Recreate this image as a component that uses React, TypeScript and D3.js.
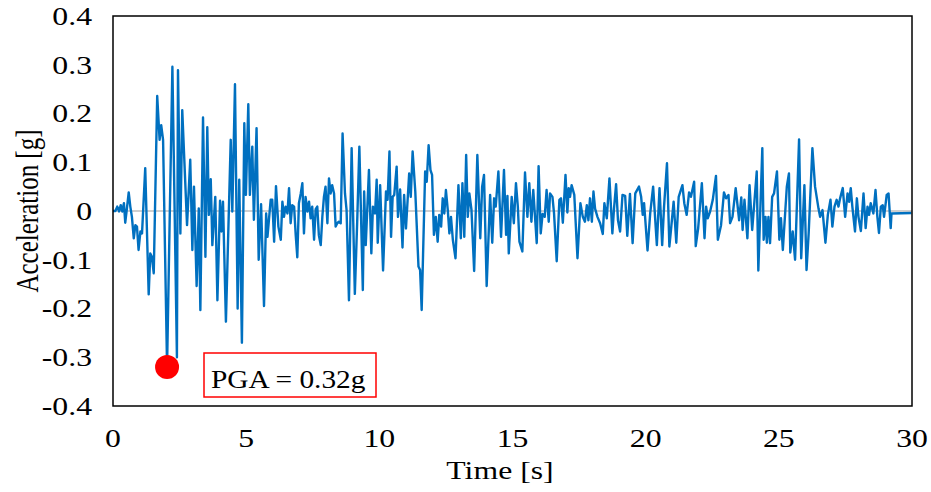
import { useEffect, useRef } from "react";
import * as d3 from "d3";

// time [s] / acceleration [g]
const time = [
  0, 0.09, 0.16, 0.23, 0.29, 0.35, 0.41, 0.46, 0.53, 0.59, 0.65, 0.71, 0.78, 0.84, 0.9, 0.96, 1.03, 1.09, 1.21, 1.34,
  1.4, 1.46, 1.53, 1.66, 1.75, 1.81, 1.88, 2.03, 2.23, 2.4, 2.44, 2.53, 2.6, 2.78, 2.9,
  2.98, 3.04, 3.14, 3.22, 3.28, 3.38, 3.47, 3.54, 3.6, 3.67, 3.73, 3.84, 3.92, 4.02, 4.07, 4.13, 4.24, 4.42, 4.48,
  4.58, 4.68, 4.74, 4.84, 4.93, 4.99, 5.08, 5.14, 5.23, 5.29, 5.39, 5.47, 5.56, 5.67, 5.75, 5.8, 5.86, 5.92, 5.98,
  6.05, 6.12, 6.21,
  6.3, 6.36, 6.42, 6.48, 6.55, 6.61, 6.67, 6.73, 6.8, 6.86, 6.92, 6.98, 7.05, 7.11, 7.17, 7.23, 7.3, 7.36, 7.42,
  7.48, 7.55, 7.61, 7.67, 7.73, 7.8, 7.86, 7.92, 7.98, 8.05, 8.11, 8.17, 8.23, 8.3, 8.36, 8.42, 8.48, 8.55, 8.62,
  8.71, 8.77, 8.86, 8.96, 9.08, 9.17, 9.25,
  9.38, 9.43, 9.49, 9.61, 9.7, 9.76, 9.84, 9.9, 9.94, 10.03, 10.14, 10.25, 10.31, 10.38, 10.44, 10.5, 10.56, 10.65,
  10.7, 10.78, 10.87, 10.93, 11.0, 11.12, 11.18, 11.25, 11.35, 11.47, 11.53, 11.59, 11.72, 11.78, 11.85, 11.92,
  11.98, 12.05, 12.12, 12.19, 12.25,
  12.32, 12.38, 12.44, 12.5, 12.57, 12.63, 12.69, 12.76, 12.86, 12.97, 13.06, 13.12, 13.19, 13.26, 13.32, 13.38,
  13.46, 13.56, 13.68, 13.79, 13.86, 13.93, 14.03, 14.16, 14.24, 14.31, 14.37, 14.47, 14.57, 14.68, 14.76, 14.81,
  14.86, 14.97, 15.05, 15.13, 15.2, 15.26,
  15.37, 15.47, 15.56, 15.63, 15.71, 15.78, 15.91, 15.98, 16.06, 16.13, 16.21, 16.28, 16.36, 16.41, 16.5, 16.56,
  16.66, 16.76, 16.82, 16.89, 16.99, 17.06, 17.11, 17.16, 17.22, 17.32, 17.44, 17.55, 17.64, 17.72, 17.79, 17.85,
  17.91, 17.98, 18.04, 18.1,
  18.19, 18.29, 18.39, 18.45, 18.54, 18.64, 18.75, 18.81, 18.89, 18.96, 19.04, 19.13, 19.23, 19.31, 19.41, 19.51,
  19.61, 19.75, 19.83, 19.89, 19.94, 20.07, 20.17, 20.28, 20.42, 20.52, 20.62, 20.69, 20.8, 20.89, 20.95, 21.05,
  21.15, 21.24,
  21.38, 21.45, 21.54, 21.63, 21.7, 21.82, 21.88, 21.97, 22.11, 22.21, 22.27, 22.33, 22.42, 22.52, 22.64, 22.71,
  22.83, 22.94, 23.02, 23.11, 23.17, 23.26, 23.38, 23.51, 23.59, 23.64, 23.71, 23.82, 23.9, 24.0, 24.17, 24.23,
  24.38, 24.43, 24.5, 24.55, 24.61, 24.67, 24.75, 24.82, 24.93, 25.02, 25.08, 25.15, 25.3, 25.38, 25.43, 25.52,
  25.61, 25.76, 25.84, 25.96, 26.04, 26.12, 26.26, 26.36, 26.49, 26.55, 26.64, 26.75, 26.84, 26.94, 27.01, 27.09,
  27.17, 27.24, 27.3, 27.4, 27.49, 27.58, 27.64, 27.7, 27.76, 27.86, 27.93, 27.99, 28.08, 28.18, 28.26, 28.33,
  28.39, 28.45, 28.55, 28.63, 28.7, 28.76, 28.83, 28.9, 28.95, 29.05, 29.12, 29.2, 29.23, 29.98,
];

const accel = [
  0, 0, 0.009, -0.001, 0.012, -0.001, 0.016, -0.024, 0.009, 0.038, 0.009, -0.012, -0.056, -0.029, -0.032, -0.08,
  -0.042, -0.046, 0.088, -0.171, -0.087, -0.094, -0.128, 0.236, 0.146, 0.176, 0.146, -0.32, 0.296, -0.3, 0.289,
  -0.046, 0.207, -0.029, 0.105,
  -0.08, 0.05, -0.154, 0.005, -0.203, 0.192, -0.094, 0.172, -0.008, 0.065, -0.07, 0.029, -0.183, 0.021, -0.042,
  0.019, -0.227, 0.146, -0.001, 0.26, -0.2, 0.064, -0.27, 0.18, 0.033, 0.219, 0.033, 0.132, -0.018, 0.17, -0.1,
  0.014, -0.195, -0.005, -0.053, -0.015, 0.023, 0.023, -0.063, 0.051, -0.032,
  -0.059, 0.019, -0.012, 0.009, -0.005, 0.047, -0.025, 0.012, 0.009, -0.049, -0.095, 0.016, 0.036, 0.057, -0.046,
  0.029, -0.001, 0.019, -0.015, 0.009, -0.059, 0.004, 0.009, -0.05, -0.07, -0.012, 0.029, 0.05, -0.025, 0.067,
  0.036, 0.053, 0.036, -0.032, -0.025, -0.022, -0.025, 0.159, 0.036, 0.002, -0.183, 0.129, -0.17, -0.02, 0.132,
  -0.162, 0.04, -0.07, 0.084, -0.087, 0.009, -0.005, 0.064, -0.065, 0.053, -0.122, 0.04, 0.023, 0.122, -0.053,
  0.029, 0.033, 0.091, -0.012, 0.044, -0.075, 0.033, -0.036, 0.077, 0.029, 0.122, 0.04, -0.114, -0.121, -0.203,
  0.081, 0.06, 0.135, 0.084, 0.074, -0.049, -0.012, -0.063, -0.008,
  -0.032, 0.026, -0.005, 0.043, 0.002, -0.046, -0.012, -0.059, -0.097, 0.053, -0.056, 0.057, -0.053, 0.115,
  -0.012, 0.036, 0.002, -0.123, 0.115, -0.056, 0.05, 0.074, -0.154, 0.033, -0.065, 0.026, 0.009, 0.081, -0.053,
  0.084, -0.049, 0.031, -0.087, 0.029, -0.025, 0.057, 0.009, -0.063,
  -0.083, 0.079, -0.012, 0.057, -0.022, 0.043, -0.066, 0.092, -0.046, -0.006, -0.012, 0.043, -0.022, 0.036, 0.029,
  -0.005, -0.103, 0.023, 0.026, -0.024, 0.074, -0.003, 0.047, 0.029, 0.053, 0.033, -0.097, 0.016, -0.012, -0.022,
  0.012, -0.019, 0.026, -0.022, 0.04, 0.005,
  -0.012, -0.025, -0.047, 0.016, -0.015, 0.067, -0.046, 0.004, 0.055, -0.019, -0.042, 0.033, 0.031, -0.051, 0.035,
  -0.066, 0.036, 0.05, 0.029, -0.008, 0.016, -0.081, -0.005, 0.05, -0.07, 0.047, -0.07, 0.009, 0.098, -0.073,
  -0.039, 0.019, -0.065, 0.029,
  0.053, 0.016, -0.008, 0.038, 0.029, 0.06, -0.072, -0.036, 0.057, -0.056, 0.009, -0.015, -0.001, 0.023, 0.072,
  -0.059, -0.029, 0.038, 0.026, 0.033, -0.025, -0.012, 0.047, -0.019, 0.028, -0.039, 0.023, -0.056, 0.053, -0.039,
  0.081, -0.122,
  0.129, -0.059, -0.012, -0.065, -0.012, -0.066, 0.029, 0.036, 0.081, -0.059, -0.015, -0.08, 0.05, 0.077, -0.085,
  -0.042, -0.1, 0.147, -0.097, 0.053, -0.121, -0.046, 0.129, 0.05, 0.005, -0.012, 0.002, -0.065, -0.008, 0.023,
  -0.032, 0.009,
  0.023, 0.009, 0.026, 0.047, -0.012, 0.036, 0.019, 0.047, 0.009, -0.042, 0.026, -0.012, -0.041, 0.036, -0.035,
  0.009, -0.008, 0.016, -0.005, 0.043, -0.012, -0.045, 0.009, 0.012, -0.012, 0.033, 0.036, -0.035, -0.005, -0.004,
];

const xTicks = [0, 5, 10, 15, 20, 25, 30];
const yTicks = [-0.4, -0.3, -0.2, -0.1, 0, 0.1, 0.2, 0.3, 0.4];
const pga = { t: 2.03, a: -0.32, label: "PGA = 0.32g" };

const W = 931;
const H = 492;
const margin = { left: 113, right: 19, top: 16, bottom: 86 };
const font = "'Liberation Serif', 'Times New Roman', serif";
const stretch = 1.27; // text in the original is a bit wide

export default function App() {
  const svgRef = useRef<SVGSVGElement>(null);

  useEffect(() => {
    const svg = d3.select(svgRef.current);
    svg.selectAll("*").remove();

    const x = d3.scaleLinear().domain([0, 30]).range([margin.left, W - margin.right]);
    const y = d3.scaleLinear().domain([-0.4, 0.4]).range([H - margin.bottom, margin.top]);

    // zero line
    svg
      .append("line")
      .attr("x1", x(0))
      .attr("x2", x(30))
      .attr("y1", y(0))
      .attr("y2", y(0))
      .attr("stroke", "#bfbfbf")
      .attr("stroke-width", 1.5);

    const data = time.map((t, i) => [t, accel[i]] as [number, number]);
    const line = d3
      .line<[number, number]>()
      .x((d) => x(d[0]))
      .y((d) => y(d[1]));

    svg
      .append("path")
      .datum(data)
      .attr("d", line)
      .attr("fill", "none")
      .attr("stroke", "#0070c0")
      .attr("stroke-width", 2.4)
      .attr("stroke-linejoin", "round");

    // frame
    svg
      .append("rect")
      .attr("x", x(0))
      .attr("y", y(0.4))
      .attr("width", x(30) - x(0))
      .attr("height", y(-0.4) - y(0.4))
      .attr("fill", "none")
      .attr("stroke", "#000")
      .attr("stroke-width", 1.5);

    // tick labels
    svg
      .selectAll(".ytick")
      .data(yTicks)
      .join("text")
      .attr("class", "ytick")
      .attr("transform", (d) => `translate(${x(0) - 21}, ${y(d)}) scale(${stretch}, 1)`)
      .attr("dy", "0.35em")
      .attr("text-anchor", "end")
      .attr("font-family", font)
      .attr("font-size", 25)
      .text((d) => (d === 0 ? "0" : d.toFixed(1)));

    svg
      .selectAll(".xtick")
      .data(xTicks)
      .join("text")
      .attr("class", "xtick")
      .attr("transform", (d) => `translate(${x(d)}, ${y(-0.4) + 41}) scale(${stretch}, 1)`)
      .attr("text-anchor", "middle")
      .attr("font-family", font)
      .attr("font-size", 25)
      .text((d) => d);

    svg
      .append("text")
      .attr("transform", `translate(500, 479) scale(${stretch}, 1)`)
      .attr("text-anchor", "middle")
      .attr("font-family", font)
      .attr("font-size", 25)
      .text("Time [s]");

    svg
      .append("text")
      .attr("transform", `translate(38, ${y(0)}) scale(${stretch}, 1) rotate(-90)`)
      .attr("text-anchor", "middle")
      .attr("font-family", font)
      .attr("font-size", 25)
      .text("Acceleration [g]");

    // PGA marker + callout
    svg
      .append("circle")
      .attr("cx", x(pga.t))
      .attr("cy", y(pga.a))
      .attr("r", 12)
      .attr("fill", "#ff0000");

    svg
      .append("rect")
      .attr("x", 204)
      .attr("y", 353)
      .attr("width", 172)
      .attr("height", 44)
      .attr("fill", "#fff")
      .attr("stroke", "#ff0000")
      .attr("stroke-width", 1.5);

    svg
      .append("text")
      .attr("transform", "translate(211, 388) scale(1.13, 1)")
      .attr("font-family", font)
      .attr("font-size", 26)
      .text(pga.label);
  }, []);

  return (
    <svg
      ref={svgRef}
      width={W}
      height={H}
      style={{ position: "absolute", left: 0, top: 0, background: "#fff" }}
    />
  );
}
